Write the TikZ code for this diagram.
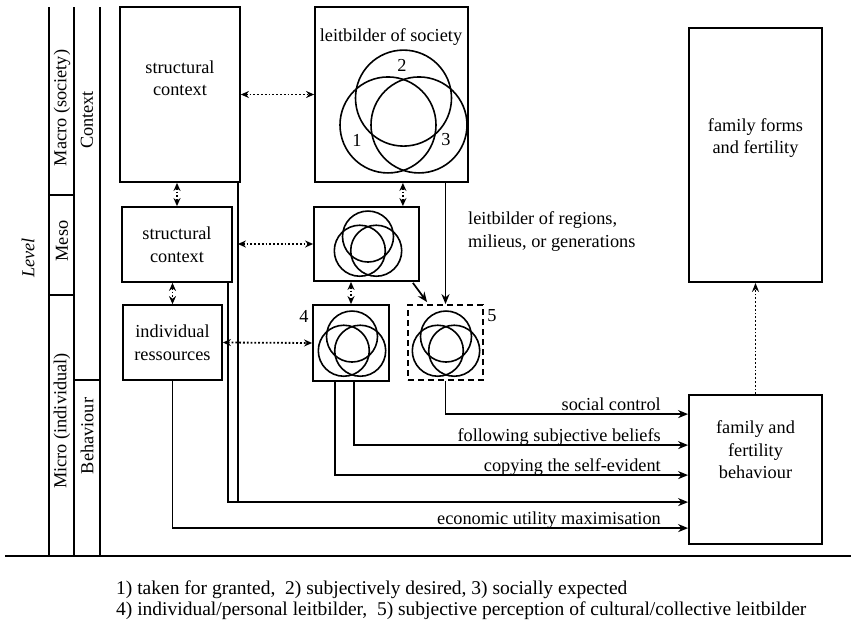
\documentclass[tikz,border=0pt]{standalone}
\usepackage{fontspec}
\setmainfont{Liberation Serif}
\usetikzlibrary{arrows.meta,calc}
\newcommand{\venndraw}[4]{% cx cy r d
  \draw[line width=1.6pt] (#1,#2-1.1547*#4) circle[radius=#3];
  \draw[line width=1.6pt] (#1-#4,#2+0.57735*#4) circle[radius=#3];
  \draw[line width=1.6pt] (#1+#4,#2+0.57735*#4) circle[radius=#3];
}
\begin{document}
\begin{tikzpicture}[x=1pt,y=-1pt,
  txt/.style={font=\fontsize{18.3}{22.5}\selectfont,align=center,inner sep=0pt},
  fnt/.style={font=\fontsize{19.5}{22}\selectfont,inner sep=0pt},
  box/.style={draw,line width=1.8pt,inner sep=0pt,txt},
  conn/.style={line width=1.7pt},
  arr/.style={conn,-{Stealth[length=10pt,width=8pt]}},
  darr/.style={line width=1.8pt,dotted,{Stealth[length=8pt,width=7pt]}-{Stealth[length=8pt,width=7pt]}},
  sdarr/.style={line width=1.8pt,dotted,-{Stealth[length=9pt,width=7pt]}},
]
\useasboundingbox (0,0) rectangle (851,621);
% left frame
\draw[conn] (49,7) -- (49,556);
\draw[conn] (74,7) -- (74,556);
\draw[conn] (100,7) -- (100,556);
\draw[conn] (49,195) -- (74,195);
\draw[conn] (49,295) -- (74,295);
\draw[conn] (74,380) -- (100,380);
\draw[line width=2pt] (5,556) -- (851,556);
\node[txt,rotate=90] (level) at (28,258) {\itshape Level};
\node[txt,rotate=90] (macro) at (62,108) {Macro (society)};
\node[txt,rotate=90] (meso) at (62,241) {Meso};
\node[txt,rotate=90] (micro) at (62,421) {Micro (individual)};
\node[txt,rotate=90] (context) at (87,120) {Context};
\node[txt,rotate=90] (behavl) at (87,436) {Behaviour};
% boxes
\node[box,minimum width=120,minimum height=175] (smac) at (180,94.5) {};
\node[txt] (smact) at (180,78) {structural\\context};
\node[box,minimum width=153,minimum height=175] (lsoc) at (391.5,94.5) {};
\node[txt] (lsoct) at (391,37) {leitbilder of society};
\venndraw{403.5}{116}{48}{15.5}
\node[txt] (n2) at (402,65) {2};
\node[txt] (n1) at (357,140) {1};
\node[txt] (n3) at (446,140) {3};
\node[box,minimum width=110,minimum height=75] (smes) at (177,244.5) {structural\\context};
\node[box,minimum width=105,minimum height=74] (lmes) at (366.5,244) {};
\venndraw{368}{246}{25.5}{8.2}
\node[box,minimum width=99,minimum height=75] (sind) at (172.5,342.5) {individual\\ressources};
\node[box,minimum width=76,minimum height=76] (l4) at (351,343) {};
\venndraw{352}{346}{25.5}{8.2}
\node[box,dashed,dash pattern=on 6pt off 4pt,minimum width=75,minimum height=75] (l5) at (445.5,342.5) {};
\venndraw{446}{346}{25.5}{8.2}
\node[txt] (n4) at (304,316) {4};
\node[txt] (n5) at (492,316) {5};
\node[box,minimum width=133,minimum height=254] (ff) at (755.5,155) {};
\node[txt] (fft) at (755.5,138) {family forms\\and fertility};
\node[box,minimum width=133,minimum height=149] (behav) at (755.5,469.5) {};
\node[txt] (behavt) at (755.5,450) {family and\\fertility\\behaviour};
\node[txt,anchor=west,align=left] (reg) at (468,231.5) {leitbilder of regions,\\milieus, or generations};
% dotted double arrows
\draw[darr] (smac.east) -- (lsoc.west);
\draw[darr] (smac.south -| smes.north) -- (smes.north);
\draw[darr] (smes.south -| sind.north) -- (sind.north);
\coordinate (lmesa) at ($(lmes.north east)+(-17,0)$);
\draw[darr] (lsoc.south -| lmesa) -- (lmesa);
\draw[darr] (lmes.south -| l4.north) -- (l4.north);
\coordinate (vmac) at ($(smac.south east)+(-3,0)$);
\coordinate (vmes) at ($(smes.south east)+(-5,0)$);
\draw[darr] (vmac |- lmes.west) -- (lmes.west);
\draw[darr] (sind.east) -- (l4.west);
% solid arrows
\draw[arr] ($(lmes.south east)+(-7,1)$) -- ($(l5.north west)+(20,-2)$);
\draw[arr] (lsoc.south -| l5.north) -- (l5.north);
\draw[sdarr] (behav.north) -- (ff.south);
% behaviour arrows
\coordinate (b1) at ($(behav.north west)+(0,20)$);
\coordinate (b2) at ($(behav.north west)+(0,51)$);
\coordinate (b3) at ($(behav.north west)+(0,81)$);
\coordinate (b4) at ($(behav.north west)+(0,108)$);
\coordinate (b5) at ($(behav.north west)+(0,134)$);
\draw[arr] (l5.south) |- (b1);
\draw[arr] ($(l4.south)+(3,0)$) |- (b2);
\draw[arr] ($(l4.south)+(-16,0)$) |- (b3);
\draw[arr] (vmac) |- (b4);
\draw[conn] (vmes) |- (vmac |- b4);
\draw[arr] (sind.south) |- (b5);
\node[txt,anchor=base east] (lab1) at (661,410) {social control};
\node[txt,anchor=base east] (lab2) at (661,441) {following subjective beliefs};
\node[txt,anchor=base east] (lab3) at (661,471) {copying the self-evident};
\node[txt,anchor=base east] (lab5) at (661,524) {economic utility maximisation};
% footnotes
\node[fnt,anchor=west] (fn1) at (116,590) {1) taken for granted,\ \ 2) subjectively desired, 3) socially expected};
\node[fnt,anchor=west] (fn2) at (116,611) {4) individual/personal leitbilder,\ \ 5) subjective perception of cultural/collective leitbilder};
\end{tikzpicture}
\end{document}
